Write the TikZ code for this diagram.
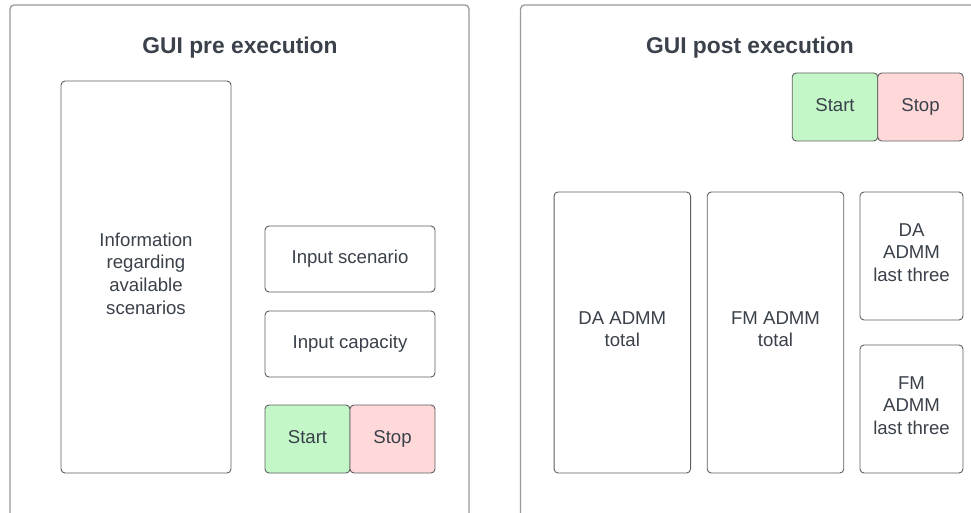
\documentclass[tikz,border=0pt]{standalone}
\usepackage{fontspec}
\setmainfont{Liberation Sans}
\usepackage{xcolor}

\definecolor{txtgray}{HTML}{3A414A}
\definecolor{linegray}{HTML}{5E5E5E}
\definecolor{framegray}{HTML}{9A9A9A}
\definecolor{startgreen}{HTML}{C3F7C8}
\definecolor{stopred}{HTML}{FFD9D9}

\tikzset{
  panel/.style = {draw=framegray, line width=1.3pt, rounded corners=4pt, inner sep=0pt},
  paneltitle/.style = {text=txtgray, font=\fontsize{22.8}{27}\selectfont\bfseries},
  field/.style = {draw=linegray, line width=0.9pt, rounded corners=4pt, fill=white,
    text=txtgray, align=center, inner sep=0pt, font=\fontsize{18.6}{22.7}\selectfont,
    execute at end node=\strut},
  startbtn/.style = {field, fill=startgreen},
  stopbtn/.style = {field, fill=stopred},
}

\begin{document}
\begin{tikzpicture}[x=1pt, y=-1pt]
      \useasboundingbox (0,0) rectangle (971,513);
      \clip (0,0) rectangle (971,513);

      % pre execution panel
      \node[panel, minimum width=459pt, minimum height=530pt] (pre) at (239.5,270) {};
      \node[paneltitle] (pretitle) at (240,48) {GUI pre execution};
      \node[field, minimum width=170pt, minimum height=392pt] (info) at (146,277) {Information\\regarding\\available\\scenarios};
      \node[field, minimum width=170pt, minimum height=66pt] (scenario) at (350,259) {Input scenario};
      \node[field, minimum width=170pt, minimum height=66pt] (capacity) at (350,344) {Input capacity};
      \node[startbtn, minimum width=85pt, minimum height=68pt] (prestart) at (307.5,439) {Start};
      \node[stopbtn, minimum width=85pt, minimum height=68pt] (prestop) at (392.5,439) {Stop};

      % post execution panel
      \node[panel, minimum width=480pt, minimum height=530pt] (post) at (760.5,270) {};
      \node[paneltitle] (posttitle) at (750,48) {GUI post execution};
      \node[startbtn, minimum width=85.5pt, minimum height=68pt] (poststart) at (835,107) {Start};
      \node[stopbtn, minimum width=85.5pt, minimum height=68pt] (poststop) at (920.5,107) {Stop};
      \node[field, minimum width=136.5pt, minimum height=281pt] (datotal) at (622.3,332.5) {DA ADMM\\total};
      \node[field, minimum width=136.5pt, minimum height=281pt] (fmtotal) at (775.5,332.5) {FM ADMM\\total};
      \node[field, minimum width=103pt, minimum height=128pt] (dalast) at (911.5,256) {DA\\ADMM\\last three};
      \node[field, minimum width=103pt, minimum height=128pt] (fmlast) at (911.5,409) {FM\\ADMM\\last three};
    \end{tikzpicture}
\end{document}
